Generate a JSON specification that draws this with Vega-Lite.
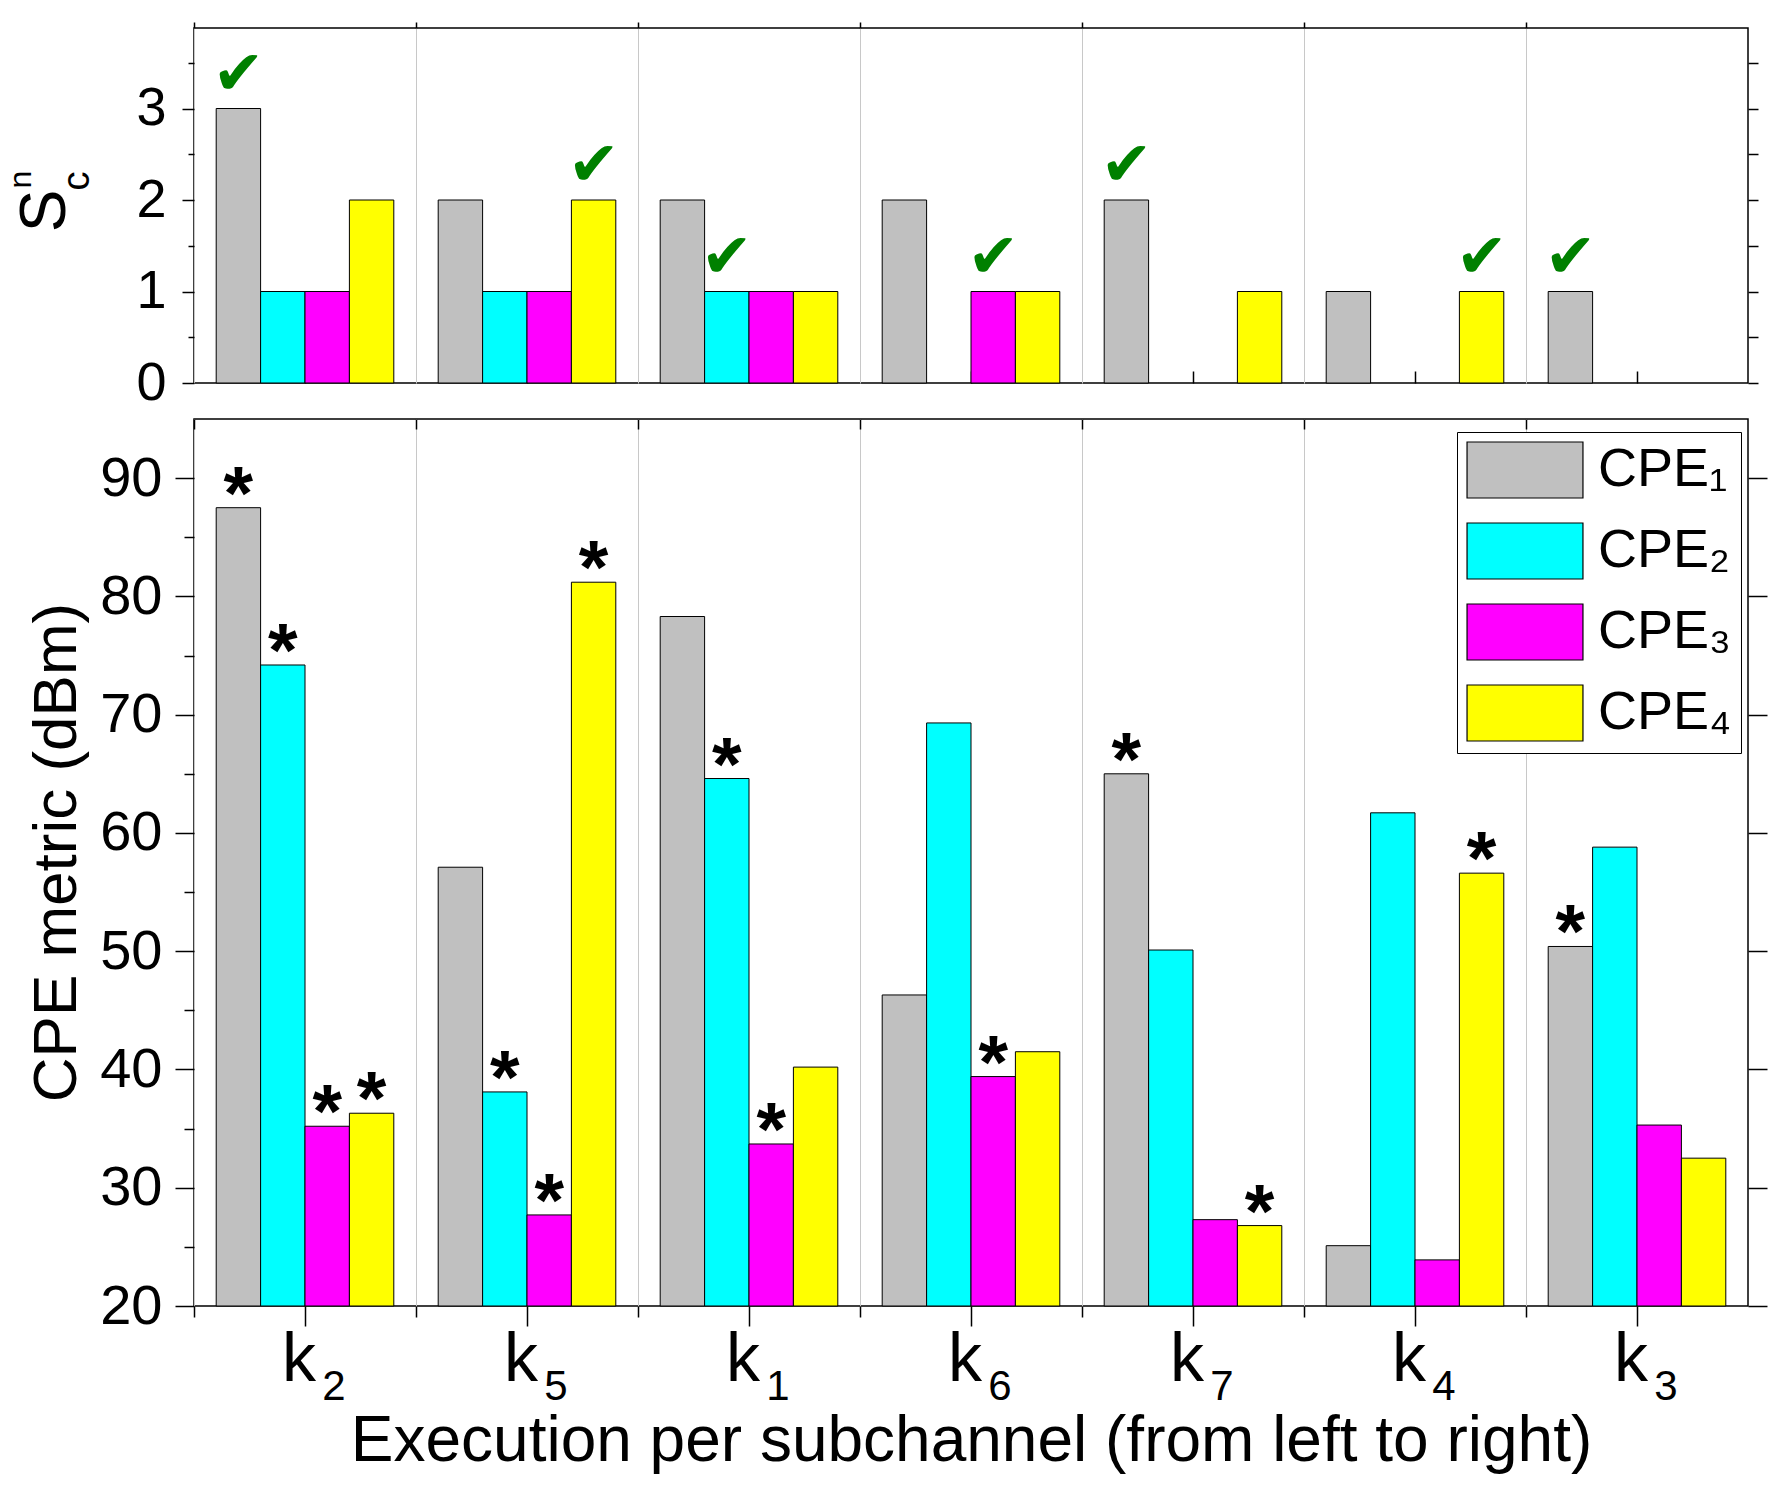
{
  "$schema": "https://vega.github.io/schema/vega-lite/v6.json",
  "padding": {"left": 3, "top": 20, "right": 10, "bottom": 5},
  "background": "white",
  "config": {
    "font": "Liberation Sans",
    "view": {"stroke": "black", "strokeWidth": 1.5},
    "axis": {
      "domain": false, "grid": false, "tickColor": "black", "tickWidth": 1.5, "minExtent": 0,
      "labelColor": "black", "titleColor": "black", "titleFontWeight": "normal",
      "labelFont": "Liberation Sans", "titleFont": "Liberation Sans"
    }
  },
  "datasets": {
    "sc": [
      {"k": "k2", "cpe": "CPE₁", "s": 3, "check": true},
      {"k": "k2", "cpe": "CPE₂", "s": 1, "check": false},
      {"k": "k2", "cpe": "CPE₃", "s": 1, "check": false},
      {"k": "k2", "cpe": "CPE₄", "s": 2, "check": false},
      {"k": "k5", "cpe": "CPE₁", "s": 2, "check": false},
      {"k": "k5", "cpe": "CPE₂", "s": 1, "check": false},
      {"k": "k5", "cpe": "CPE₃", "s": 1, "check": false},
      {"k": "k5", "cpe": "CPE₄", "s": 2, "check": true},
      {"k": "k1", "cpe": "CPE₁", "s": 2, "check": false},
      {"k": "k1", "cpe": "CPE₂", "s": 1, "check": true},
      {"k": "k1", "cpe": "CPE₃", "s": 1, "check": false},
      {"k": "k1", "cpe": "CPE₄", "s": 1, "check": false},
      {"k": "k6", "cpe": "CPE₁", "s": 2, "check": false},
      {"k": "k6", "cpe": "CPE₃", "s": 1, "check": true},
      {"k": "k6", "cpe": "CPE₄", "s": 1, "check": false},
      {"k": "k7", "cpe": "CPE₁", "s": 2, "check": true},
      {"k": "k7", "cpe": "CPE₄", "s": 1, "check": false},
      {"k": "k4", "cpe": "CPE₁", "s": 1, "check": false},
      {"k": "k4", "cpe": "CPE₄", "s": 1, "check": true},
      {"k": "k3", "cpe": "CPE₁", "s": 1, "check": true}
    ],
    "metric": [
      {"k": "k2", "cpe": "CPE₁", "v": 87.5, "star": true},
      {"k": "k2", "cpe": "CPE₂", "v": 74.2, "star": true},
      {"k": "k2", "cpe": "CPE₃", "v": 35.2, "star": true},
      {"k": "k2", "cpe": "CPE₄", "v": 36.3, "star": true},
      {"k": "k5", "cpe": "CPE₁", "v": 57.1, "star": false},
      {"k": "k5", "cpe": "CPE₂", "v": 38.1, "star": true},
      {"k": "k5", "cpe": "CPE₃", "v": 27.7, "star": true},
      {"k": "k5", "cpe": "CPE₄", "v": 81.2, "star": true},
      {"k": "k1", "cpe": "CPE₁", "v": 78.3, "star": false},
      {"k": "k1", "cpe": "CPE₂", "v": 64.6, "star": true},
      {"k": "k1", "cpe": "CPE₃", "v": 33.7, "star": true},
      {"k": "k1", "cpe": "CPE₄", "v": 40.2, "star": false},
      {"k": "k6", "cpe": "CPE₁", "v": 46.3, "star": false},
      {"k": "k6", "cpe": "CPE₂", "v": 69.3, "star": false},
      {"k": "k6", "cpe": "CPE₃", "v": 39.4, "star": true},
      {"k": "k6", "cpe": "CPE₄", "v": 41.5, "star": false},
      {"k": "k7", "cpe": "CPE₁", "v": 65.0, "star": true},
      {"k": "k7", "cpe": "CPE₂", "v": 50.1, "star": false},
      {"k": "k7", "cpe": "CPE₃", "v": 27.3, "star": false},
      {"k": "k7", "cpe": "CPE₄", "v": 26.8, "star": true},
      {"k": "k4", "cpe": "CPE₁", "v": 25.1, "star": false},
      {"k": "k4", "cpe": "CPE₂", "v": 61.7, "star": false},
      {"k": "k4", "cpe": "CPE₃", "v": 23.9, "star": false},
      {"k": "k4", "cpe": "CPE₄", "v": 56.6, "star": true},
      {"k": "k3", "cpe": "CPE₁", "v": 50.4, "star": true},
      {"k": "k3", "cpe": "CPE₂", "v": 58.8, "star": false},
      {"k": "k3", "cpe": "CPE₃", "v": 35.3, "star": false},
      {"k": "k3", "cpe": "CPE₄", "v": 32.5, "star": false}
    ]
  },
  "spacing": 6,
  "resolve": {"scale": {"color": "independent"}, "legend": {"color": "independent"}},
  "vconcat": [
    {
      "width": 1554,
      "height": 355,
      "data": {"name": "sc"},
      "resolve": {"axis": {"x": "independent", "y": "independent"}},
      "layer": [
        {
          "mark": {"type": "bar", "stroke": "black", "strokeWidth": 1},
          "encoding": {
            "x": {"field": "k", "type": "nominal", "sort": null,
              "scale": {"domain": ["k2", "k5", "k1", "k6", "k7", "k4", "k3"], "paddingInner": 0.2, "paddingOuter": 0.1},
              "axis": {"orient": "bottom", "labels": false, "tickSize": -12, "title": null}},
            "xOffset": {"field": "cpe", "scale": {"domain": ["CPE₁", "CPE₂", "CPE₃", "CPE₄"]}},
            "y": {"field": "s", "type": "quantitative",
              "scale": {"domain": [0, 3.88], "nice": false},
              "axis": {"orient": "left", "values": [0, 1, 2, 3], "tickSize": 12, "labelFontSize": 54, "labelPadding": 16,
                "title": "S", "titleFontSize": 64, "titleAngle": 270, "titleBaseline": "alphabetic", "titleAlign": "center",
                "titleX": -130, "titleY": 182.5}},
            "color": {"field": "cpe", "type": "nominal",
              "scale": {"domain": ["CPE₁", "CPE₂", "CPE₃", "CPE₄"], "range": ["#c0c0c0", "#00ffff", "#ff00ff", "#ffff00"]},
              "legend": null}
          }
        },
        {
          "transform": [{"filter": "datum.check"}],
          "mark": {"type": "text", "text": "✔", "font": "DejaVu Sans", "fontSize": 62, "color": "#008000", "baseline": "alphabetic", "dy": -15},
          "encoding": {
            "x": {"field": "k", "type": "nominal", "sort": null,
              "axis": {"orient": "top", "bandPosition": -0.125, "grid": true, "gridColor": "#c8c8c8", "gridWidth": 1, "tickSize": 6, "labels": false, "title": null}},
            "xOffset": {"field": "cpe"},
            "y": {"field": "s", "type": "quantitative",
              "axis": {"orient": "right", "values": [0, 0.5, 1, 1.5, 2, 2.5, 3, 3.5], "tickSize": 10, "labels": false, "title": null}}
          }
        },
        {
          "mark": {"type": "bar", "opacity": 0},
          "encoding": {
            "x": {"field": "k", "type": "nominal", "sort": null, "axis": null},
            "xOffset": {"field": "cpe"},
            "y": {"field": "s", "type": "quantitative",
              "axis": {"orient": "left", "values": [0.5, 1.5, 2.5, 3.5], "tickSize": 6, "labels": false,
                "title": "n", "titleFontSize": 32, "titleAngle": 270, "titleBaseline": "alphabetic", "titleAlign": "center",
                "titleX": -164, "titleY": 151}}
          }
        },
        {
          "mark": {"type": "bar", "opacity": 0},
          "encoding": {
            "x": {"field": "k", "type": "nominal", "sort": null, "axis": null},
            "xOffset": {"field": "cpe"},
            "y": {"field": "s", "type": "quantitative",
              "axis": {"orient": "left", "ticks": false, "labels": false,
                "title": "c", "titleFontSize": 38, "titleAngle": 270, "titleBaseline": "alphabetic", "titleAlign": "center",
                "titleX": -106, "titleY": 152.5}}
          }
        }
      ]
    },
    {
      "width": 1554,
      "height": 887,
      "data": {"name": "metric"},
      "resolve": {"axis": {"x": "independent", "y": "independent"}},
      "layer": [
        {
          "mark": {"type": "bar", "stroke": "black", "strokeWidth": 1},
          "encoding": {
            "x": {"field": "k", "type": "nominal", "sort": null,
              "scale": {"domain": ["k2", "k5", "k1", "k6", "k7", "k4", "k3"], "paddingInner": 0.2, "paddingOuter": 0.1},
              "axis": {"orient": "bottom", "labelExpr": "'k'", "labelAngle": 0, "labelFontSize": 68, "labelOffset": -6, "labelPadding": 0,
                "tickSize": 20, "title": "Execution per subchannel (from left to right)", "titleFontSize": 64, "titlePadding": 15}},
            "xOffset": {"field": "cpe", "scale": {"domain": ["CPE₁", "CPE₂", "CPE₃", "CPE₄"]}},
            "y": {"field": "v", "type": "quantitative",
              "scale": {"domain": [20, 95], "nice": false, "zero": false},
              "axis": {"orient": "left", "values": [20, 30, 40, 50, 60, 70, 80, 90], "tickSize": 19, "labelFontSize": 56, "labelPadding": 13,
                "title": "CPE metric (dBm)", "titleFontSize": 62, "titleAngle": 270, "titleBaseline": "alphabetic", "titleAlign": "center",
                "titleX": -119, "titleY": 433}},
            "y2": {"datum": 20},
            "color": {"field": "cpe", "type": "nominal",
              "scale": {"domain": ["CPE₁", "CPE₂", "CPE₃", "CPE₄"], "range": ["#c0c0c0", "#00ffff", "#ff00ff", "#ffff00"]},
              "legend": {"orient": "none", "legendX": 1263, "legendY": 13, "title": null,
                "symbolType": "M-2.07,-1H2.07V1H-2.07Z", "symbolSize": 3136, "symbolOffset": 30,
                "symbolStrokeColor": "black", "symbolStrokeWidth": 1.2, "symbolOpacity": 1,
                "labelFontSize": 54, "labelOffset": 44, "labelColor": "black", "labelFont": "Liberation Sans", "rowPadding": 19,
                "padding": 9, "strokeColor": "black", "fillColor": "white"}}
          }
        },
        {
          "transform": [{"filter": "datum.star"}],
          "mark": {"type": "text", "text": "*", "font": "Liberation Sans", "fontWeight": "bold", "fontSize": 76, "color": "black", "baseline": "alphabetic", "dy": 11},
          "encoding": {
            "x": {"field": "k", "type": "nominal", "sort": null,
              "axis": {"orient": "top", "bandPosition": -0.125, "grid": true, "gridColor": "#c8c8c8", "gridWidth": 1, "tickSize": -10, "labels": false, "title": null}},
            "xOffset": {"field": "cpe"},
            "y": {"field": "v", "type": "quantitative",
              "axis": {"orient": "right", "values": [20, 30, 40, 50, 60, 70, 80, 90], "tickSize": 19, "labels": false, "title": null}}
          }
        },
        {
          "mark": {"type": "bar", "opacity": 0},
          "encoding": {
            "x": {"field": "k", "type": "nominal", "sort": null,
              "axis": {"orient": "bottom", "bandPosition": -0.125, "tickSize": 11, "labelExpr": "slice(datum.label, 1)", "labelAngle": 0,
                "labelFontSize": 42, "labelOffset": 29, "labelPadding": 49, "title": null}},
            "xOffset": {"field": "cpe"},
            "y": {"field": "v", "type": "quantitative",
              "axis": {"orient": "left", "values": [25, 35, 45, 55, 65, 75, 85], "tickSize": 10, "labels": false, "title": null}},
            "y2": {"datum": 20}
          }
        }
      ]
    }
  ]
}
